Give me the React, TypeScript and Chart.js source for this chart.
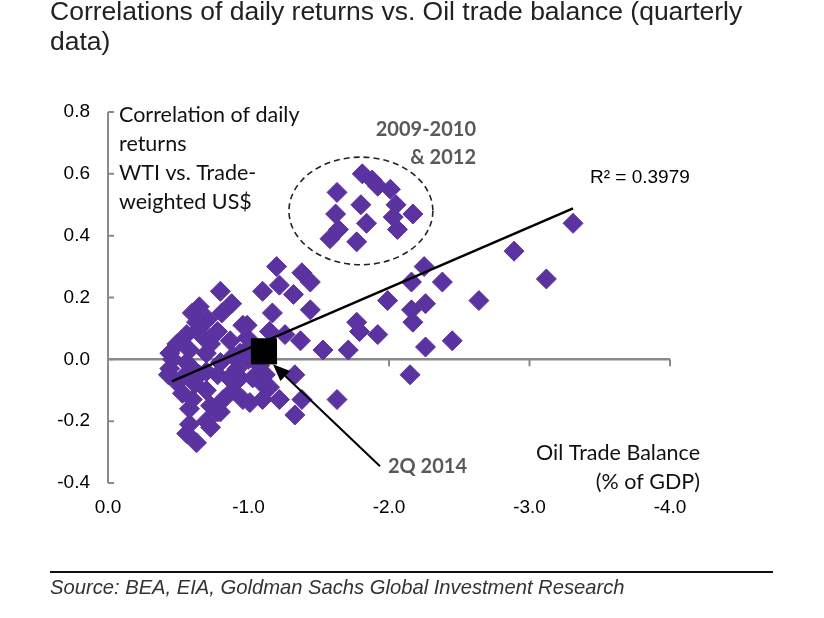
import React, { useEffect, useRef } from 'react';
import { Chart, registerables } from 'chart.js';
Chart.register(...registerables);

// Oil trade balance (% of GDP) and correlation of daily returns, quarterly
const oilBalance = [
  -1.81, -1.88, -1.92, -1.63, -2.01, -1.80, -2.05, -1.62, -2.17, -1.84, -2.03, -1.64, -2.06, -1.58, -1.77,
  -3.31, -2.89, -3.12, -2.64, -2.25, -2.16, -2.38, -1.99, -2.26, -2.16, -2.17, -1.77, -1.79, -1.92, -2.26, -2.45, -2.15, -1.63, -1.53, -1.71, -1.37, -1.33, -1.38, -1.33,
  -1.20, -1.38, -1.44, -1.22, -1.10, -1.32, -1.17, -1.44, -0.99, -1.15, -1.26, -1.01,
  -0.80, -0.88, -0.65, -0.60, -0.71, -0.81, -0.65, -0.56, -0.78, -0.96, -0.49, -0.44, -0.58, -0.73, -0.87, -0.99, -0.94, -0.80, -0.58, -1.08, -0.70, -0.56, -0.89, -0.63,
  -0.44, -0.56, -0.70, -0.92, -1.06, -0.53, -0.60, -0.73, -0.80, -0.89, -0.96, -1.01, -1.10, -1.10, -0.58, -0.73, -0.56, -0.63, -0.53, -0.65, -0.78, -0.94, -0.70, -0.82, -1.15, -1.22, -0.58, -0.78, -0.70, -1.12, -1.03, -0.46, -0.43, -0.48, -0.68, -0.62, -0.86, -1.00,
];
const correlation = [
  0.60, 0.58, 0.56, 0.54, 0.55, 0.50, 0.50, 0.47, 0.47, 0.44, 0.46, 0.42, 0.42, 0.39, 0.38,
  0.44, 0.35, 0.26, 0.19, 0.30, 0.25, 0.25, 0.19, 0.18, 0.16, 0.12, 0.12, 0.09, 0.08, 0.04, 0.06, -0.05, -0.13, 0.03, 0.03, 0.06, -0.05, -0.13, -0.18,
  0.30, 0.28, 0.25, 0.24, 0.22, 0.21, 0.15, 0.16, 0.11, 0.09, 0.08, 0.04,
  0.22, 0.18, 0.17, 0.15, 0.13, 0.15, 0.10, 0.08, 0.09, 0.11, 0.05, 0.02, 0.03, 0.05, 0.06, 0.07, 0.02, -0.01, -0.02, -0.02, 0.02, -0.01, 0.01, 0.12,
  -0.03, -0.05, -0.04, -0.03, -0.05, -0.11, -0.13, -0.15, -0.17, -0.10, -0.13, -0.14, -0.08, -0.13, -0.21, -0.22, -0.24, -0.27, -0.06, -0.05, -0.05, -0.06, -0.10, -0.13, -0.09, -0.13, -0.16, -0.17, -0.20, -0.05, -0.06, 0.00, -0.05, -0.07, 0.07, -0.08, -0.06, 0.00,
];

// Highlighted quarter (2Q 2014)
const latestX = [-1.11];
const latestY = [0.026];

// Linear trend end points (R² = 0.3979)
const trendX = [-0.455, -3.31];
const trendY = [-0.071, 0.488];

// Axis ranges
const xRange = [-4, 0];
const yRange = [-0.4, 0.8];

const TITLE_LINES = ['Correlations of daily returns vs. Oil trade balance (quarterly', 'data)'];
const SOURCE = 'Source: BEA, EIA, Goldman Sachs Global Investment Research';
const Y_NOTE = ['Correlation of daily', 'returns', 'WTI vs. Trade-', 'weighted US$'];
const X_NOTE = ['Oil Trade Balance', '(% of GDP)'];
const CLUSTER_NOTE = ['2009-2010', '& 2012'];
const R2_NOTE = 'R² = 0.3979';
const LATEST_NOTE = '2Q 2014';

// Dashed ellipse around the 2009-2010 & 2012 cluster (centre, radii in data units)
const ellipseCenter = [-1.80, 0.48];
const ellipseRadii = [0.512, 0.174];
// Arrow from label to highlighted quarter
const arrowFrom = [-1.936, -0.346];
const arrowTo = [-1.174, -0.016];

const PURPLE = '#5b33a0';
const SANS = '"Liberation Sans", Arial, sans-serif';
const NOTE_FONT = 'Lato, "Open Sans", sans-serif';

const overlay = {
  id: 'overlay',
  beforeDatasetsDraw(chart: any) {
    const { ctx, chartArea: a, scales } = chart;
    const x = scales.x, y = scales.y;
    ctx.save();
    ctx.strokeStyle = '#8a8a8a';
    ctx.lineWidth = 2;
    ctx.beginPath();
    ctx.moveTo(a.left, a.top);
    ctx.lineTo(a.left, a.bottom);
    for (const t of y.ticks) {
      const py = y.getPixelForValue(t.value);
      ctx.moveTo(a.left, py);
      ctx.lineTo(a.left + 6, py);
    }
    ctx.stroke();
    const y0 = y.getPixelForValue(0);
    ctx.lineWidth = 2.5;
    ctx.beginPath();
    ctx.moveTo(a.left, y0);
    ctx.lineTo(a.right, y0);
    ctx.stroke();
    ctx.lineWidth = 2;
    ctx.beginPath();
    for (const t of x.ticks) {
      const px = x.getPixelForValue(t.value);
      ctx.moveTo(px, y0);
      ctx.lineTo(px, y0 + 7);
    }
    ctx.stroke();
    ctx.restore();
  },
  afterDatasetsDraw(chart: any) {
    const { ctx, scales } = chart;
    const x = scales.x, y = scales.y;
    ctx.save();
    // ellipse
    const cx = x.getPixelForValue(ellipseCenter[0]);
    const cy = y.getPixelForValue(ellipseCenter[1]);
    const rx = Math.abs(x.getPixelForValue(ellipseCenter[0] + ellipseRadii[0]) - cx);
    const ry = Math.abs(y.getPixelForValue(ellipseCenter[1] + ellipseRadii[1]) - cy);
    ctx.strokeStyle = '#222';
    ctx.lineWidth = 1.6;
    ctx.setLineDash([6, 4]);
    ctx.beginPath();
    ctx.ellipse(cx, cy, rx, ry, 0, 0, Math.PI * 2);
    ctx.stroke();
    ctx.setLineDash([]);
    // arrow
    const ax0 = x.getPixelForValue(arrowFrom[0]);
    const ay0 = y.getPixelForValue(arrowFrom[1]);
    const ax1 = x.getPixelForValue(arrowTo[0]);
    const ay1 = y.getPixelForValue(arrowTo[1]);
    const ang = Math.atan2(ay1 - ay0, ax1 - ax0);
    const hl = 17, hw = 7;
    const bx = ax1 - Math.cos(ang) * hl, by = ay1 - Math.sin(ang) * hl;
    ctx.strokeStyle = '#000';
    ctx.lineWidth = 2;
    ctx.beginPath();
    ctx.moveTo(ax0, ay0);
    ctx.lineTo(bx, by);
    ctx.stroke();
    ctx.fillStyle = '#000';
    ctx.beginPath();
    ctx.moveTo(ax1, ay1);
    ctx.lineTo(bx + Math.sin(ang) * hw, by - Math.cos(ang) * hw);
    ctx.lineTo(bx - Math.sin(ang) * hw, by + Math.cos(ang) * hw);
    ctx.closePath();
    ctx.fill();

    // texts
    ctx.textBaseline = 'middle';
    ctx.fillStyle = '#111';
    ctx.font = `21.5px ${NOTE_FONT}`;
    ctx.textAlign = 'left';
    Y_NOTE.forEach((s, i) => ctx.fillText(s, 119, 115 + i * 29));
    ctx.textAlign = 'right';
    X_NOTE.forEach((s, i) => ctx.fillText(s, 700, 453 + i * 29));
    ctx.fillStyle = '#595959';
    ctx.font = `bold 20px ${NOTE_FONT}`;
    CLUSTER_NOTE.forEach((s, i) => ctx.fillText(s, 476, 130 + i * 28));
    ctx.textAlign = 'left';
    ctx.fillText(LATEST_NOTE, 388, 467);
    ctx.fillStyle = '#000';
    ctx.font = `19px ${SANS}`;
    ctx.fillText(R2_NOTE, 590, 178);
    ctx.restore();
  },
};

export default function App() {
  const ref = useRef<HTMLCanvasElement>(null);
  useEffect(() => {
    const fmt = (v: any) => (Math.abs(Number(v)) < 1e-9 ? '0.0' : Number(v).toFixed(1));
    const chart = new Chart(ref.current as HTMLCanvasElement, {
      type: 'scatter',
      data: {
        datasets: [
          {
            label: '2Q 2014',
            data: latestX.map((v, i) => ({ x: v, y: latestY[i] })),
            pointStyle: 'rect',
            pointRadius: 18.5,
            backgroundColor: '#000',
            borderColor: '#000',
            borderWidth: 0,
            order: 0,
          },
          {
            type: 'line',
            label: 'Trend',
            data: trendX.map((v, i) => ({ x: v, y: trendY[i] })),
            borderColor: '#000',
            borderWidth: 2.5,
            pointRadius: 0,
            showLine: true,
            fill: false,
            order: 1,
          } as any,
          {
            label: 'Quarters',
            data: oilBalance.map((v, i) => ({ x: v, y: correlation[i] })),
            pointStyle: 'rectRot',
            pointRadius: 10,
            backgroundColor: PURPLE,
            borderColor: PURPLE,
            borderWidth: 1,
            order: 2,
          },
        ],
      },
      options: {
        responsive: true,
        maintainAspectRatio: false,
        animation: false,
        events: [],
        layout: { padding: { top: 112, right: 154, bottom: 95, left: 0 }, autoPadding: false },
        plugins: { legend: { display: false }, tooltip: { enabled: false }, title: { display: false } },
        scales: {
          x: {
            type: 'linear',
            min: xRange[0],
            max: xRange[1],
            reverse: true,
            grid: { display: false, drawTicks: false },
            border: { display: false },
            ticks: {
              stepSize: 1,
              callback: fmt,
              color: '#000',
              font: { family: SANS, size: 19 },
              padding: 13,
              maxRotation: 0,
              autoSkip: false,
            },
            afterFit: (s: any) => { s.height = 40; },
          },
          y: {
            type: 'linear',
            min: yRange[0],
            max: yRange[1],
            grid: { display: false, drawTicks: false },
            border: { display: false },
            ticks: {
              stepSize: 0.2,
              callback: fmt,
              color: '#000',
              font: { family: SANS, size: 19 },
              padding: 18,
              autoSkip: false,
            },
            afterFit: (s: any) => { s.width = 108; },
          },
        },
      },
      plugins: [overlay],
    });
    return () => chart.destroy();
  }, []);

  return (
    <div style={{ position: 'absolute', left: 0, top: 0, width: 824, height: 618, background: '#fff' }}>
      <canvas ref={ref} />
      <div style={{ position: 'absolute', left: 50, top: -4, font: `26.5px ${SANS}`, lineHeight: '30px', color: '#222', whiteSpace: 'pre' }}>
        {TITLE_LINES.map((l, i) => (<div key={i}>{l}</div>))}
      </div>
      <div style={{ position: 'absolute', left: 50, top: 571, width: 723, height: 1.5, background: '#111' }} />
      <div style={{ position: 'absolute', left: 50, top: 576, font: `italic 20.2px ${SANS}`, lineHeight: '22px', color: '#333', whiteSpace: 'pre' }}>
        {SOURCE}
      </div>
    </div>
  );
}
